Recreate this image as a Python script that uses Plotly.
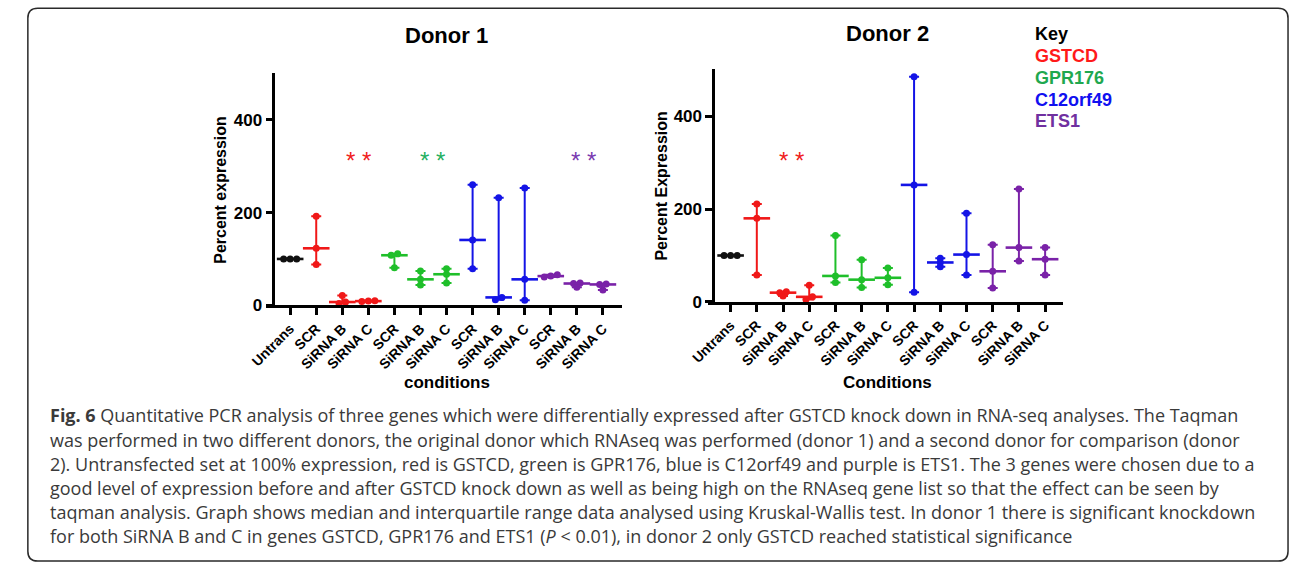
import numpy as np
import plotly.graph_objects as go

W, H = 1290, 574

# ---------------- data ----------------
conditions = ["Untrans", "SCR", "SiRNA B", "SiRNA C", "SCR", "SiRNA B", "SiRNA C",
              "SCR", "SiRNA B", "SiRNA C", "SCR", "SiRNA B", "SiRNA C"]
genes = ["GSTCD", "GPR176", "C12orf49", "ETS1"]

# each gene: [SCR, SiRNA B, SiRNA C], three replicates each (percent expression)
d1_untrans = [100, 100, 100]
d1_gstcd = [[88, 123, 192], [4, 7, 21], [8, 9, 10]]
d1_gpr176 = [[81, 108, 111], [44, 56, 74], [48, 67, 79]]
d1_c12orf49 = [[79, 141, 260], [12, 17, 232], [11, 56, 253]]
d1_ets1 = [[61, 63, 66], [39, 47, 48], [33, 45, 46]]

d2_untrans = [100, 100, 100]
d2_gstcd = [[58, 180, 211], [13, 20, 22], [5, 11, 36]]
d2_gpr176 = [[42, 56, 143], [31, 48, 91], [37, 52, 73]]
d2_c12orf49 = [[21, 252, 485], [76, 85, 94], [58, 102, 191]]
d2_ets1 = [[30, 66, 123], [88, 117, 243], [58, 92, 117]]

# significance marks: (category position, gene)
d1_sig = [(2.63, "GSTCD"), (5.47, "GPR176"), (11.26, "ETS1")]
d2_sig = [(2.34, "GSTCD")]
sig_level = [318, 311]

key_labels = ["GSTCD", "GPR176", "C12orf49", "ETS1"]

caption_lines = [
    "<b>Fig. 6</b> Quantitative PCR analysis of three genes which were differentially expressed after GSTCD knock down in RNA-seq analyses. The Taqman",
    "was performed in two different donors, the original donor which RNAseq was performed (donor 1) and a second donor for comparison (donor",
    "2). Untransfected set at 100% expression, red is GSTCD, green is GPR176, blue is C12orf49 and purple is ETS1. The 3 genes were chosen due to a",
    "good level of expression before and after GSTCD knock down as well as being high on the RNAseq gene list so that the effect can be seen by",
    "taqman analysis. Graph shows median and interquartile range data analysed using Kruskal-Wallis test. In donor 1 there is significant knockdown",
    "for both SiRNA B and C in genes GSTCD, GPR176 and ETS1 (<i>P</i> < 0.01), in donor 2 only GSTCD reached statistical significance",
]

# ---------------- style ----------------
mark_colors = {"Untrans": "#111111", "GSTCD": "#F01818", "GPR176": "#1FBF2A",
               "C12orf49": "#1414E6", "ETS1": "#7A22A8"}
key_colors = {"GSTCD": "#FF1A1A", "GPR176": "#1FA84F", "C12orf49": "#1010F0", "ETS1": "#7030A0"}
star_colors = {"GSTCD": "#F02020", "GPR176": "#25B060", "ETS1": "#7A3AB0"}
FONT = "Liberation Sans, Arial, sans-serif"


def px_x(x):
    return x / W


def px_y(y):
    return 1 - y / H


def jitter(vals, thr, step=0.25):
    vals = np.asarray(vals, dtype=float)
    order = np.argsort(vals, kind="stable")
    clusters = [[order[0]]]
    for a, b in zip(order[:-1], order[1:]):
        if vals[b] - vals[a] < thr:
            clusters[-1].append(b)
        else:
            clusters.append([b])
    off = np.zeros(len(vals))
    for c in clusters:
        k = len(c)
        for j, idx in enumerate(c):
            off[idx] = (j - (k - 1) / 2) * step
    return off


def groups(untrans, g1, g2, g3, g4):
    out = [("Untrans", untrans)]
    for g, data in zip(genes, [g1, g2, g3, g4]):
        for d in data:
            out.append((g, d))
    return out


fig = go.Figure()

panels = [
    dict(data=groups(d1_untrans, d1_gstcd, d1_gpr176, d1_c12orf49, d1_ets1),
         xa="x", ya="y", sig=d1_sig, siglevel=sig_level[0]),
    dict(data=groups(d2_untrans, d2_gstcd, d2_gpr176, d2_c12orf49, d2_ets1),
         xa="x2", ya="y2", sig=d2_sig, siglevel=sig_level[1]),
]

for p in panels:
    for i, (g, vals) in enumerate(p["data"]):
        c = mark_colors[g]
        vals = np.asarray(vals, dtype=float)
        q1, med, q3 = np.percentile(vals, [25, 50, 75], method="weibull")
        off = jitter(vals, 7)
        fig.add_trace(go.Scatter(
            x=i + off, y=vals, mode="markers", xaxis=p["xa"], yaxis=p["ya"],
            marker=dict(color=c, size=7, line=dict(width=0)), cliponaxis=False,
            showlegend=False, hoverinfo="y"))
        err = None
        if q3 - q1 > 0:
            err = dict(type="data", symmetric=False, array=[q3 - med], arrayminus=[med - q1],
                       color=c, thickness=2, width=5)
        fig.add_trace(go.Scatter(
            x=[i], y=[med], mode="markers", xaxis=p["xa"], yaxis=p["ya"],
            marker=dict(symbol="line-ew", size=19, color=c, line=dict(color=c, width=2.6)),
            error_y=err, cliponaxis=False, showlegend=False, hoverinfo="y"))
    for xpos, g in p["sig"]:
        fig.add_annotation(x=xpos, y=p["siglevel"], xref=p["xa"], yref=p["ya"], text="* *",
                           showarrow=False, font=dict(family=FONT, size=24, color=star_colors[g]),
                           xanchor="center", yanchor="middle", yshift=-3)

axis_common = dict(showgrid=False, zeroline=False, showline=True, linecolor="black",
                   linewidth=2.5, ticks="outside", ticklen=7, tickwidth=2.5, tickcolor="black")

fig.update_layout(
    width=W, height=H, autosize=False,
    margin=dict(l=0, r=0, t=0, b=0),
    paper_bgcolor="white", plot_bgcolor="white",
    font=dict(family=FONT, color="black"),
    xaxis=dict(domain=[px_x(251.7), px_x(613)], range=[-0.92, 12.75], anchor="y",
               tickvals=list(range(len(conditions))), ticktext=[f"<b>{c}</b>" for c in conditions],
               tickangle=-45, tickfont=dict(family=FONT, size=14, color="black"), **axis_common),
    yaxis=dict(domain=[px_y(310.7), px_y(74)], range=[0, 502], anchor="free", position=px_x(259),
               tickvals=[0, 200, 400], ticktext=["<b>0</b>", "<b>200</b>", "<b>400</b>"],
               tickfont=dict(family=FONT, size=17, color="black"), **axis_common),
    xaxis2=dict(domain=[px_x(699.3), px_x(1060)], range=[-0.88, 12.69], anchor="y2",
                tickvals=list(range(len(conditions))), ticktext=[f"<b>{c}</b>" for c in conditions],
                tickangle=-45, tickfont=dict(family=FONT, size=14, color="black"), **axis_common),
    yaxis2=dict(domain=[px_y(307.3), px_y(70)], range=[0, 502], anchor="free", position=px_x(705),
                tickvals=[0, 200, 400], ticktext=["<b>0</b>", "<b>200</b>", "<b>400</b>"],
                tickfont=dict(family=FONT, size=17, color="black"), **axis_common),
)

# titles and axis titles
texts = [
    ("<b>Donor 1</b>", 435, 36, 22, "center", 0),
    ("<b>Donor 2</b>", 882, 34, 22, "center", 0),
    ("<b>conditions</b>", 435, 389, 17, "center", 0),
    ("<b>Conditions</b>", 882, 389, 17, "center", 0),
    ("<b>Percent expression</b>", 205, 193, 16, "center", -90),
    ("<b>Percent Expression</b>", 653, 189, 16, "center", -90),
]
for t, x, y, s, anc, ang in texts:
    fig.add_annotation(x=px_x(x), y=px_y(y), xref="paper", yref="paper", text=t, showarrow=False,
                       font=dict(family=FONT, size=s, color="black"), xanchor=anc, yanchor="middle",
                       textangle=ang)

# key
fig.add_annotation(x=px_x(1029), y=px_y(35), xref="paper", yref="paper", text="<b>Key</b>",
                   showarrow=False, font=dict(family=FONT, size=18, color="black"),
                   xanchor="left", yanchor="middle")
for k, lab in enumerate(key_labels):
    fig.add_annotation(x=px_x(1029), y=px_y(57.3 + 22 * k), xref="paper", yref="paper",
                       text=f"<b>{lab}</b>", showarrow=False,
                       font=dict(family=FONT, size=18, color=key_colors[lab]),
                       xanchor="left", yanchor="middle")

# caption
for k, line in enumerate(caption_lines):
    fig.add_annotation(x=px_x(30.7), y=px_y(422.7 + 24.6 * k), xref="paper", yref="paper",
                       text=line, showarrow=False, align="left",
                       font=dict(family="Open Sans, sans-serif", size=18, color="#3a3a3a"),
                       xanchor="left", yanchor="middle")

# rounded frame
x0, y0, x1, y1, r = 10, 8.5, 1288, 571, 10


def P(x, y):
    return f"{x / W:.5f},{1 - y / H:.5f}"


path = (f"M {P(x0 + r, y0)} L {P(x1 - r, y0)} Q {P(x1, y0)} {P(x1, y0 + r)} "
        f"L {P(x1, y1 - r)} Q {P(x1, y1)} {P(x1 - r, y1)} L {P(x0 + r, y1)} "
        f"Q {P(x0, y1)} {P(x0, y1 - r)} L {P(x0, y0 + r)} Q {P(x0, y0)} {P(x0 + r, y0)} Z")
fig.add_shape(type="path", path=path, xref="paper", yref="paper",
              line=dict(color="#2a2a2a", width=1.5))

fig.write_html("out.html")
